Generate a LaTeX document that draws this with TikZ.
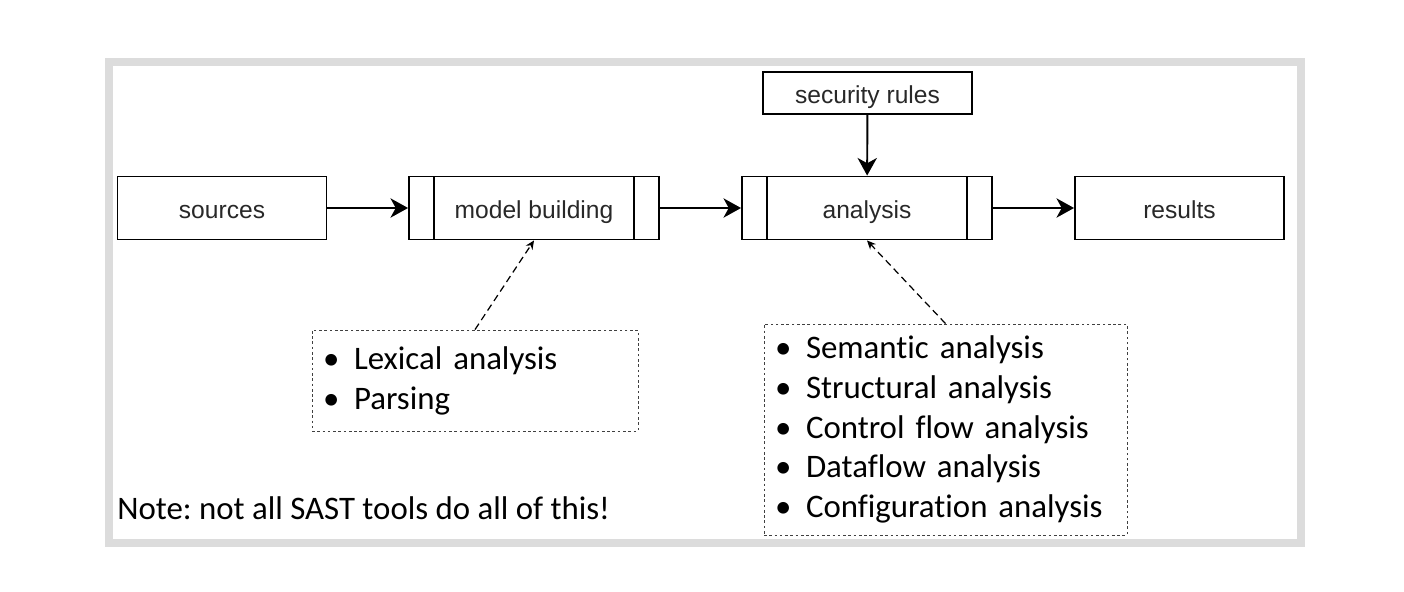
\documentclass[tikz,border=0pt]{standalone}
\usepackage{fontspec}
\setmainfont{Carlito}[Ligatures=CommonOff]
\newfontfamily\boxfont{Liberation Sans}
\usetikzlibrary{arrows.meta}
\frenchspacing

\definecolor{framegray}{RGB}{220,220,220}
\definecolor{boxtext}{RGB}{40,40,40}
\newcommand{\blt}{\makebox[0.62cm][l]{\textbullet}}

\tikzset{
  block/.style={draw, line width=1.1pt, minimum width=4.18cm, minimum height=1.26cm,
    inner sep=0pt, text height=13pt, text depth=1.6pt, text=boxtext,
    font=\boxfont\fontsize{14}{16}\selectfont},
  process/.style={block, minimum width=5cm, path picture={
    \draw[line width=1.1pt] ([xshift=0.5cm]path picture bounding box.north west) -- ([xshift=0.5cm]path picture bounding box.south west)
      ([xshift=-0.5cm]path picture bounding box.north east) -- ([xshift=-0.5cm]path picture bounding box.south east);}},
  flow/.style={-{Stealth[length=10pt,width=11pt,inset=3pt]}, line width=1.1pt},
  hint/.style={-{Stealth[length=5pt,width=4.5pt]}, line width=0.7pt, dash pattern=on 4pt off 2.5pt},
  listbox/.style={draw=black!75, line width=0.5pt, dash pattern=on 1.5pt off 1.5pt,
    align=left, inner sep=0.22cm, font=\fontsize{18.7}{22.7}\selectfont}
}

\begin{document}
\begin{tikzpicture}[x=0.02cm, y=-0.02cm]
\useasboundingbox (0,0) rectangle (1404,592);

% frame
\draw[framegray, line width=0.16cm] (109,62) rectangle (1301,543);

% pipeline
\node[block] (sources) at (222,208) {sources};
\node[process] (model) at (534,208) {model building};
\node[process] (analysis) at (867,208) {analysis};
\node[block] (results) at (1179.5,208) {results};
\node[block, minimum height=0.84cm] (rules) at (867.5,93) {security rules};

\draw[flow] (sources) -- (model);
\draw[flow] (model) -- (analysis);
\draw[flow] (analysis) -- (results);
\draw[flow] (rules) -- (analysis);

% what each step does
\node[listbox, text width=6.08cm, minimum height=2.02cm] (lexing) at (475,380.5)
  {\blt Lexical analysis\\ \blt Parsing};
\node[listbox, text width=6.82cm, minimum height=4.22cm] (checks) at (945.5,429.5)
  {\blt Semantic analysis\\ \blt Structural analysis\\ \blt Control flow analysis\\
   \blt Dataflow analysis\\ \blt Configuration analysis};

\draw[hint] (lexing.north) -- (model.south);
\draw[hint] (checks.north) -- (analysis.south);

\node[anchor=base west, inner sep=0pt, font=\fontsize{18.7}{22.7}\selectfont] (remark) at (117,519)
  {Note: not all SAST tools do all of this!};

\end{tikzpicture}
\end{document}
